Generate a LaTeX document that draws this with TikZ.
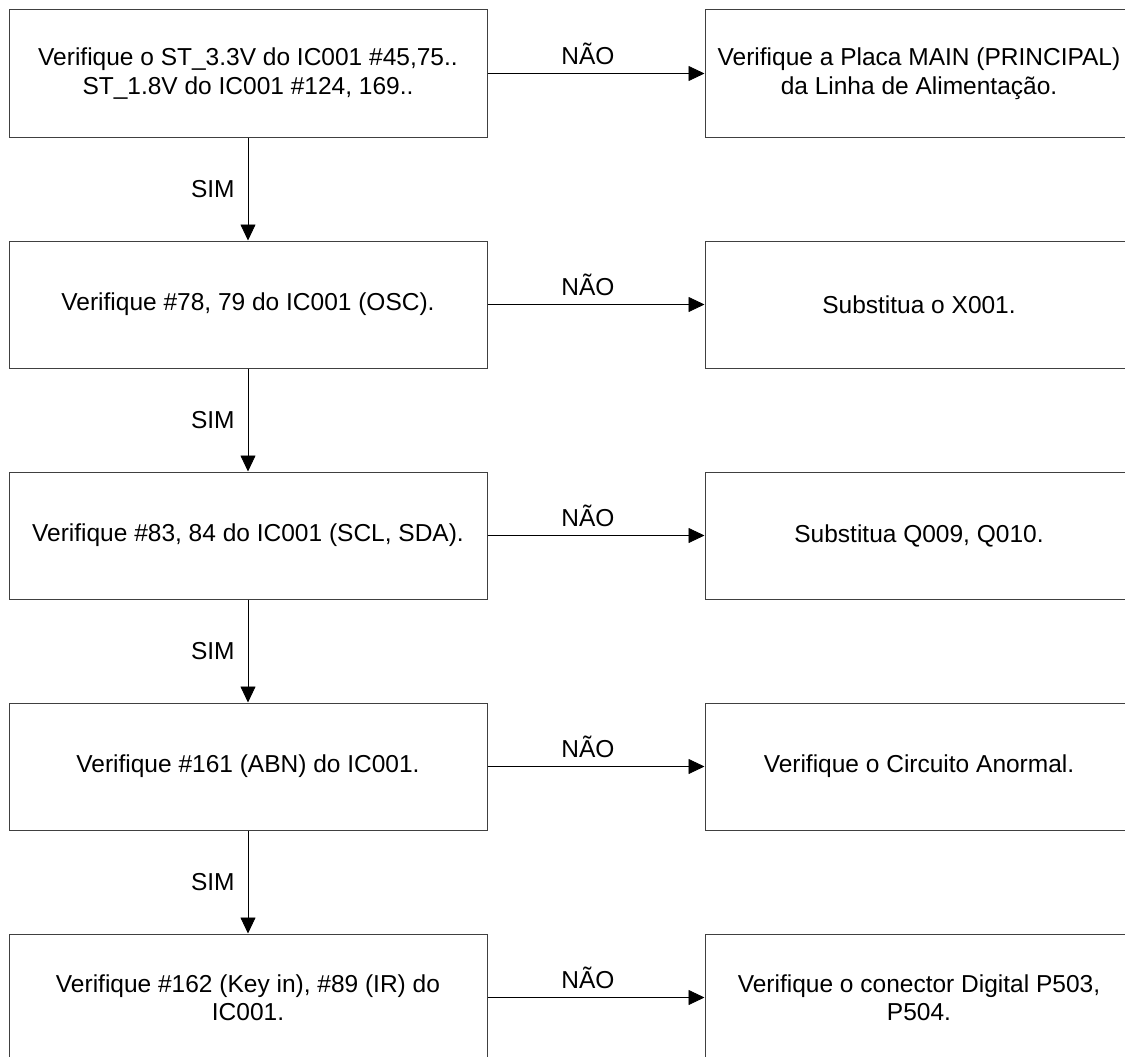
\documentclass[tikz,border=0pt]{standalone}
\usepackage{fontspec}
\setmainfont{Liberation Sans}
\usetikzlibrary{positioning,arrows.meta}

\begin{document}
\begin{tikzpicture}[->, >={Triangle[length=16pt,width=15pt]}, node distance=103pt and 217pt, line width=0.8pt,
  box/.style={draw=black!75, line width=1pt, align=center, minimum height=127pt, font=\fontsize{24.5}{28.5}\selectfont},
  left box/.style={box, minimum width=478pt},
  right box/.style={box, minimum width=428pt},
  no/.style={above, inner sep=8pt, xshift=-8pt, font=\fontsize{24.5}{28}\selectfont},
  yes/.style={left, inner sep=13pt, font=\fontsize{24.5}{28}\selectfont}]
  \useasboundingbox (0,0) rectangle (1125pt,-1057pt);

  \node[left box] (C1) at (248pt,-73.5pt) {Verifique o ST\_3.3V do IC001 \#45,75..\\ST\_1.8V do IC001 \#124, 169..};
  \node[left box, below=of C1] (C2) {Verifique \#78, 79 do IC001 (OSC).};
  \node[left box, below=of C2] (C3) {Verifique \#83, 84 do IC001 (SCL, SDA).};
  \node[left box, below=of C3] (C4) {Verifique \#161 (ABN) do IC001.};
  \node[left box, below=of C4] (C5) {Verifique \#162 (Key in), \#89 (IR) do\\IC001.};

  \node[right box, right=of C1] (R1) {Verifique a Placa MAIN (PRINCIPAL)\\da Linha de Alimentação.};
  \node[right box, right=of C2] (R2) {Substitua o X001.};
  \node[right box, right=of C3] (R3) {Substitua Q009, Q010.};
  \node[right box, right=of C4] (R4) {Verifique o Circuito Anormal.};
  \node[right box, right=of C5] (R5) {Verifique o conector Digital P503,\\P504.};

  \path (C1) edge node[no] {NÃO} (R1);
  \path (C2) edge node[no] {NÃO} (R2);
  \path (C3) edge node[no] {NÃO} (R3);
  \path (C4) edge node[no] {NÃO} (R4);
  \path (C5) edge node[no] {NÃO} (R5);

  \path (C1) edge node[yes] {SIM} (C2);
  \path (C2) edge node[yes] {SIM} (C3);
  \path (C3) edge node[yes] {SIM} (C4);
  \path (C4) edge node[yes] {SIM} (C5);
\end{tikzpicture}
\end{document}
